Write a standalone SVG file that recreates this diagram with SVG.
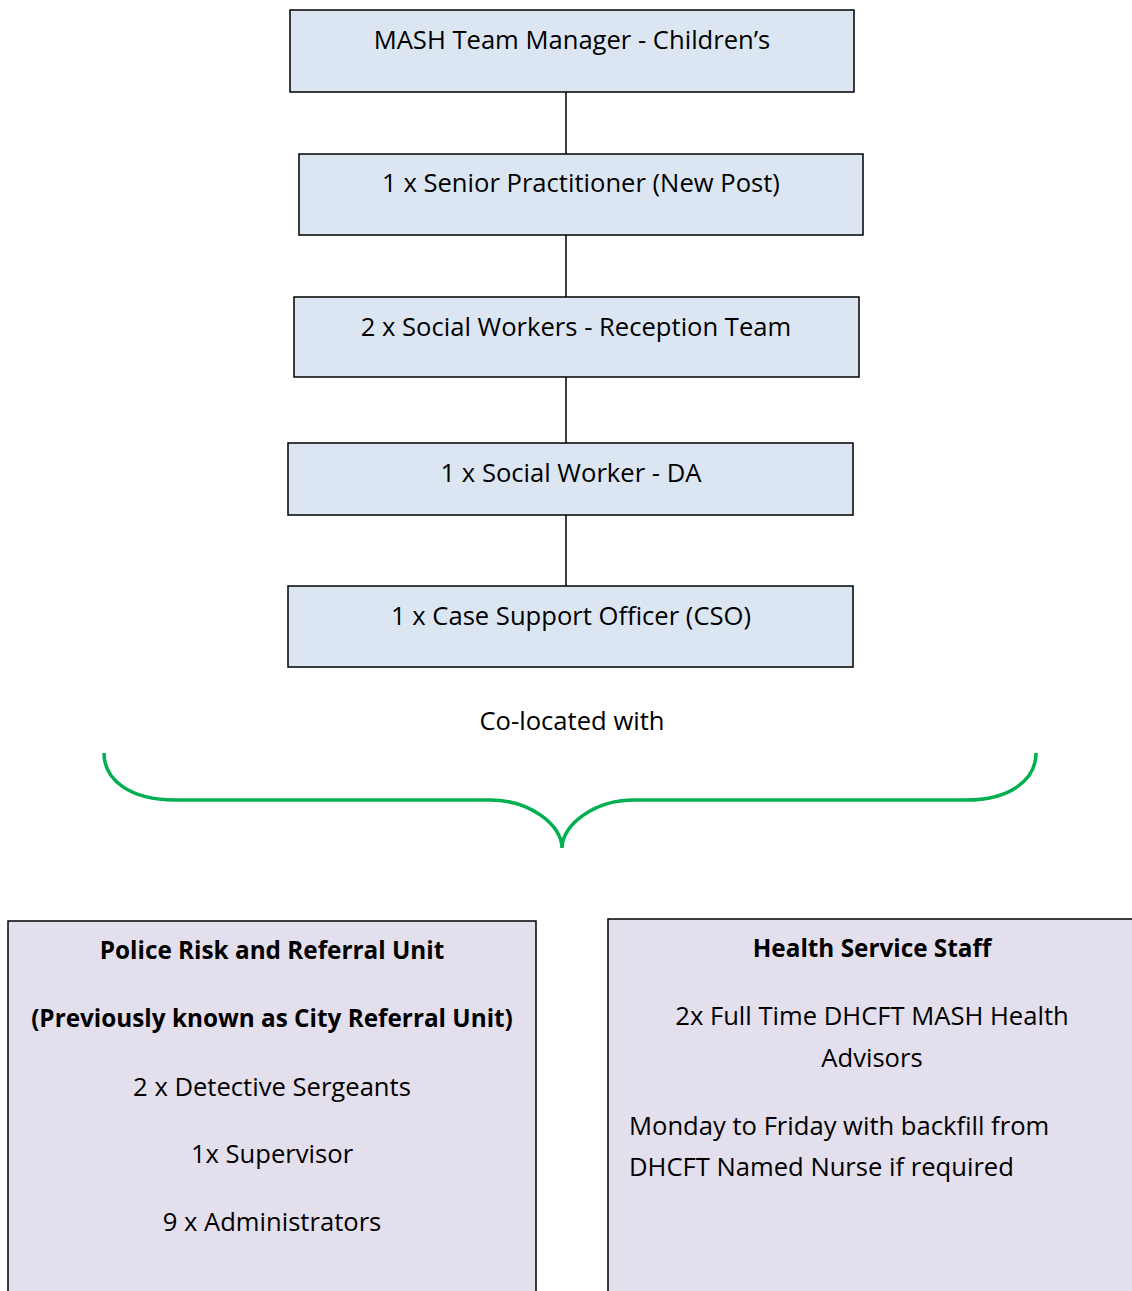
<svg xmlns="http://www.w3.org/2000/svg" width="1132" height="1291" viewBox="0 0 1132 1291">
<style>
.b{fill:#dce6f2;stroke:#000;stroke-width:1.5}
.p{fill:#e4dfec;stroke:#000;stroke-width:1.5}
text{font-family:"Open Sans","Noto Sans",sans-serif;font-size:25.6px;fill:#000}
.c{text-anchor:middle}
.bd{font-weight:bold;font-size:24.3px}
.ln{stroke:#000;stroke-width:1.5;fill:none}
</style>
<rect width="1132" height="1291" fill="#fff"/>
<g id="connectors">
<line class="ln" x1="566" y1="92" x2="566" y2="154"/>
<line class="ln" x1="566" y1="235" x2="566" y2="297"/>
<line class="ln" x1="566" y1="377" x2="566" y2="443"/>
<line class="ln" x1="566" y1="515" x2="566" y2="586"/>
<path d="M104 753 C104 780 130 800 175 800 L490 800 C530 800 562 825 562 848 C562 825 594 800 634 800 L966 800 C1010 800 1036 780 1036 753" fill="none" stroke="#00b050" stroke-width="3.5"/>
</g>
<g id="n1"><rect class="b" x="290" y="10" width="564" height="82"/><text class="c" x="572" y="49">MASH Team Manager - Children’s</text></g>
<g id="n2"><rect class="b" x="299" y="154" width="564" height="81"/><text class="c" x="581" y="192">1 x Senior Practitioner (New Post)</text></g>
<g id="n3"><rect class="b" x="294" y="297" width="565" height="80"/><text class="c" x="576" y="336">2 x Social Workers - Reception Team</text></g>
<g id="n4"><rect class="b" x="288" y="443" width="565" height="72"/><text class="c" x="571" y="482">1 x Social Worker - DA</text></g>
<g id="n5"><rect class="b" x="288" y="586" width="565" height="81"/><text class="c" x="571" y="625">1 x Case Support Officer (CSO)</text></g>
<g id="label"><text class="c" x="572" y="730">Co-located with</text></g>
<g id="police"><rect class="p" x="8" y="921" width="528" height="380"/>
<text class="c bd" x="272" y="959">Police Risk and Referral Unit</text>
<text class="c bd" x="272" y="1027">(Previously known as City Referral Unit)</text>
<text class="c" x="272" y="1096">2 x Detective Sergeants</text>
<text class="c" x="272" y="1163">1x Supervisor</text>
<text class="c" x="272" y="1231">9 x Administrators</text></g>
<g id="health"><rect class="p" x="608" y="919" width="530" height="380"/>
<text class="c bd" x="872" y="957">Health Service Staff</text>
<text class="c" x="872" y="1025">2x Full Time DHCFT MASH Health</text>
<text class="c" x="872" y="1067">Advisors</text>
<text x="629" y="1135">Monday to Friday with backfill from</text>
<text x="629" y="1176">DHCFT Named Nurse if required</text></g>
</svg>
